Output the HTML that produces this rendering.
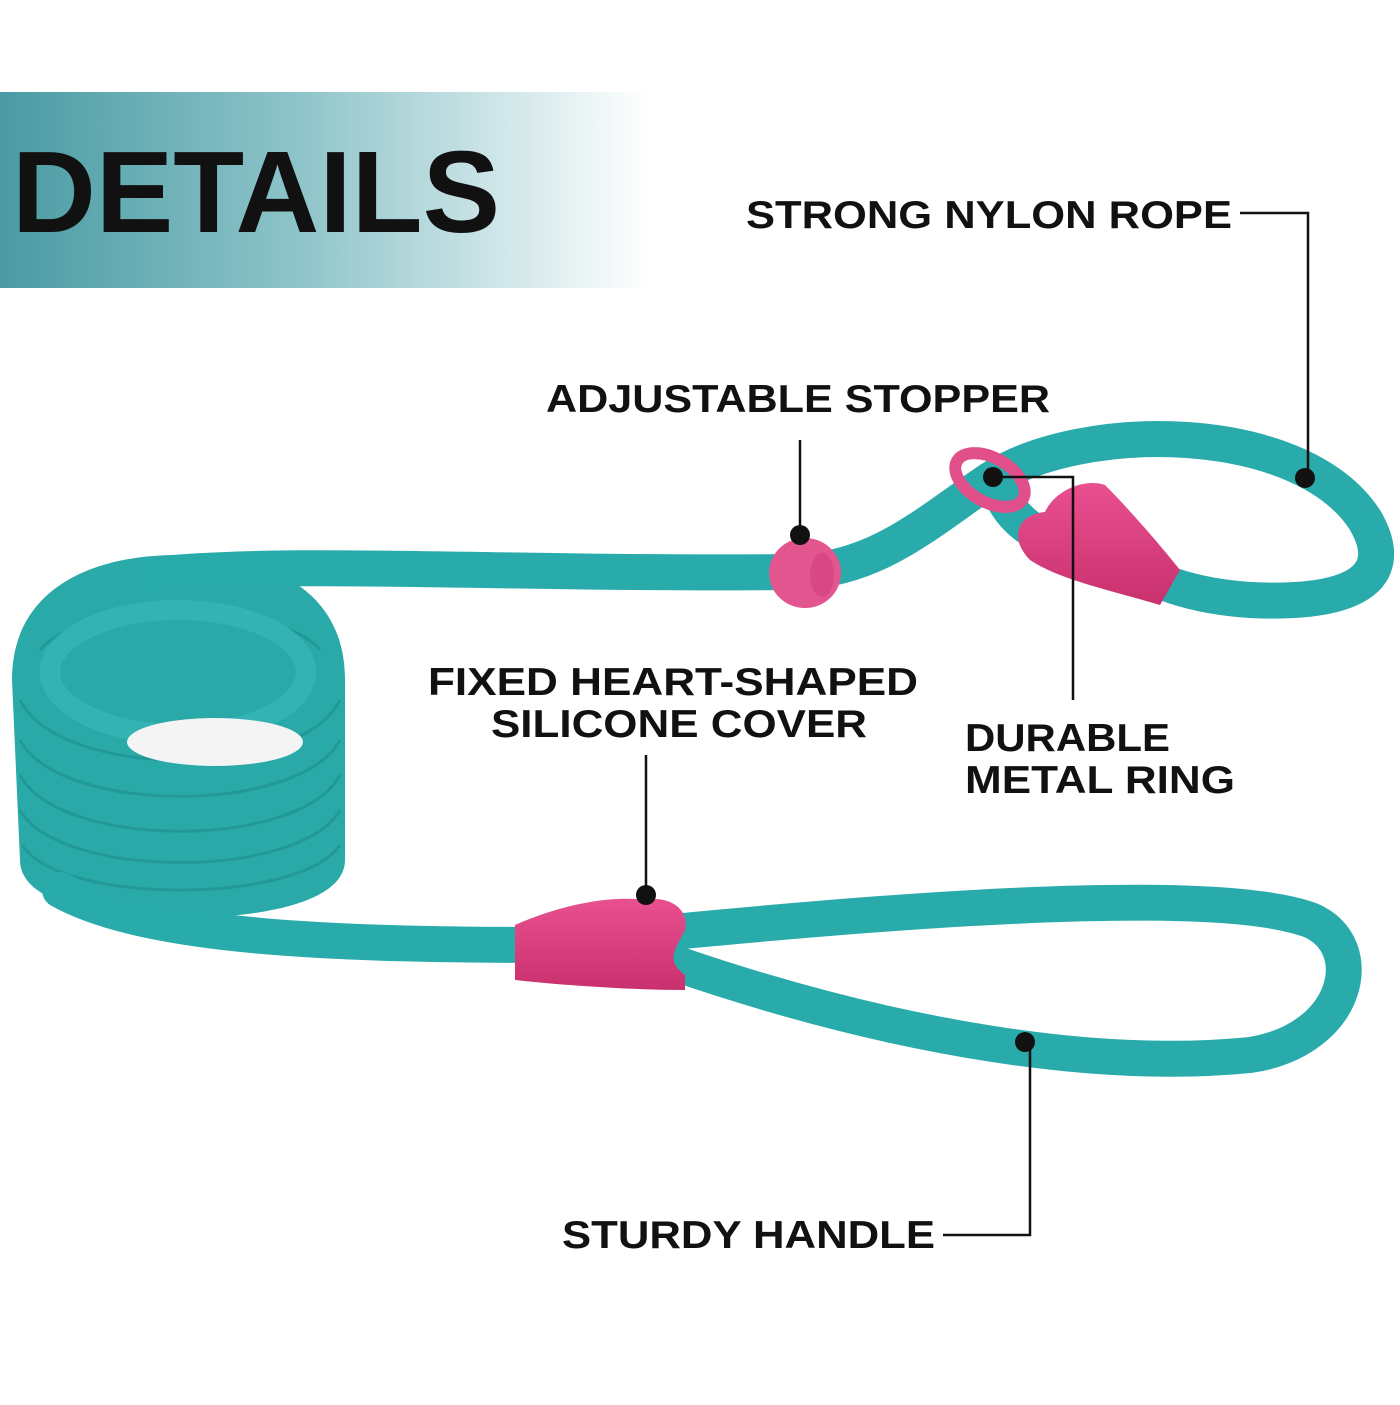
<!DOCTYPE html>
<html><head><meta charset="utf-8"><style>
html,body{margin:0;padding:0;background:#fff}
.t{font-family:"Liberation Sans","DejaVu Sans",sans-serif;font-weight:bold;fill:#111}
</style></head><body>
<svg width="1400" height="1400" viewBox="0 0 1400 1400" xmlns="http://www.w3.org/2000/svg">
<defs>
<linearGradient id="bn" x1="0" x2="1" y1="0" y2="0">
<stop offset="0" stop-color="#4a9ba4"/><stop offset="0.45" stop-color="#8cc3c8"/><stop offset="1" stop-color="#fff"/>
</linearGradient>
<linearGradient id="ht" x1="0" x2="0" y1="0" y2="1">
<stop offset="0" stop-color="#e8508f"/><stop offset="1" stop-color="#c8306e"/>
</linearGradient>
</defs>
<rect x="0" y="92" width="650" height="196" fill="url(#bn)"/>
<text x="12" y="232" class="t" font-size="116" textLength="488" lengthAdjust="spacingAndGlyphs">DETAILS</text>

<!-- coil solid -->
<path d="M12 680 C12 590 90 555 178 555 C270 555 345 590 345 680 L345 860 C345 900 270 918 178 918 C90 918 20 900 20 860 Z" fill="#2aa9a9"/>
<g fill="none" stroke="#1f9292" stroke-width="3" opacity="0.7">
<path d="M20 700 C60 780 300 780 340 700"/>
<path d="M20 740 C60 815 300 815 340 740"/>
<path d="M20 775 C60 850 300 850 340 775"/>
<path d="M20 810 C60 880 300 880 340 810"/>
<path d="M22 845 C60 905 300 905 340 845"/>
<path d="M40 650 C80 600 280 600 320 650"/>
</g>
<ellipse cx="178" cy="672" rx="128" ry="62" fill="none" stroke="#33b3b3" stroke-width="20"/>
<ellipse cx="215" cy="742" rx="88" ry="24" fill="#f4f4f4"/>

<g fill="none" stroke="#2aabab" stroke-width="36" stroke-linecap="round">
<path d="M150 575 C300 560 500 575 800 572 C880 568 930 520 990 480"/>
<path d="M990 480 C1080 420 1300 420 1365 520 C1400 580 1350 605 1250 600 C1190 596 1150 580 1120 560"/>
<path d="M1000 490 C1010 520 1040 540 1080 550"/>
<path d="M60 890 C150 940 350 945 560 945"/>
<path d="M640 935 C800 920 1200 880 1310 920 C1370 945 1350 1040 1250 1055 C1100 1070 900 1040 680 965"/>
</g>
<ellipse cx="990" cy="480" rx="38" ry="22" fill="none" stroke="#e04f8a" stroke-width="12" transform="rotate(30 990 480)"/>
<ellipse cx="805" cy="573" rx="36" ry="35" fill="#e2558f"/>
<ellipse cx="822" cy="575" rx="12" ry="22" fill="#d94884"/>
<path d="M1180 570 L1160 605 C1110 590 1060 580 1030 560 C1010 540 1015 515 1045 512 C1055 490 1085 478 1105 485 C1130 510 1160 545 1180 570Z" fill="url(#ht)"/>
<path d="M515 925 C560 905 610 895 645 900 C670 895 690 910 685 930 C675 950 665 960 685 975 L685 990 C630 990 560 985 515 980 Z" fill="url(#ht)"/>

<g stroke="#111" stroke-width="2.5" fill="none">
<path d="M1240 213 H1308 V478"/>
<path d="M800 440 V535"/>
<path d="M646 755 V895"/>
<path d="M993 477 H1073 V700"/>
<path d="M943 1235 H1030 V1042"/>
</g>
<g fill="#111">
<circle cx="1305" cy="478" r="10"/>
<circle cx="800" cy="535" r="10"/>
<circle cx="646" cy="895" r="10"/>
<circle cx="993" cy="477" r="10"/>
<circle cx="1025" cy="1042" r="10"/>
</g>

<g class="t" font-size="39">
<text x="746" y="228" textLength="486" lengthAdjust="spacingAndGlyphs">STRONG NYLON ROPE</text>
<text x="546" y="412" textLength="504" lengthAdjust="spacingAndGlyphs">ADJUSTABLE STOPPER</text>
<text x="428" y="695" textLength="490" lengthAdjust="spacingAndGlyphs">FIXED HEART-SHAPED</text>
<text x="491" y="737" textLength="376" lengthAdjust="spacingAndGlyphs">SILICONE COVER</text>
<text x="965" y="751" textLength="205" lengthAdjust="spacingAndGlyphs">DURABLE</text>
<text x="965" y="793" textLength="270" lengthAdjust="spacingAndGlyphs">METAL RING</text>
<text x="562" y="1248" textLength="373" lengthAdjust="spacingAndGlyphs">STURDY HANDLE</text>
</g>
</svg>
</body></html>
